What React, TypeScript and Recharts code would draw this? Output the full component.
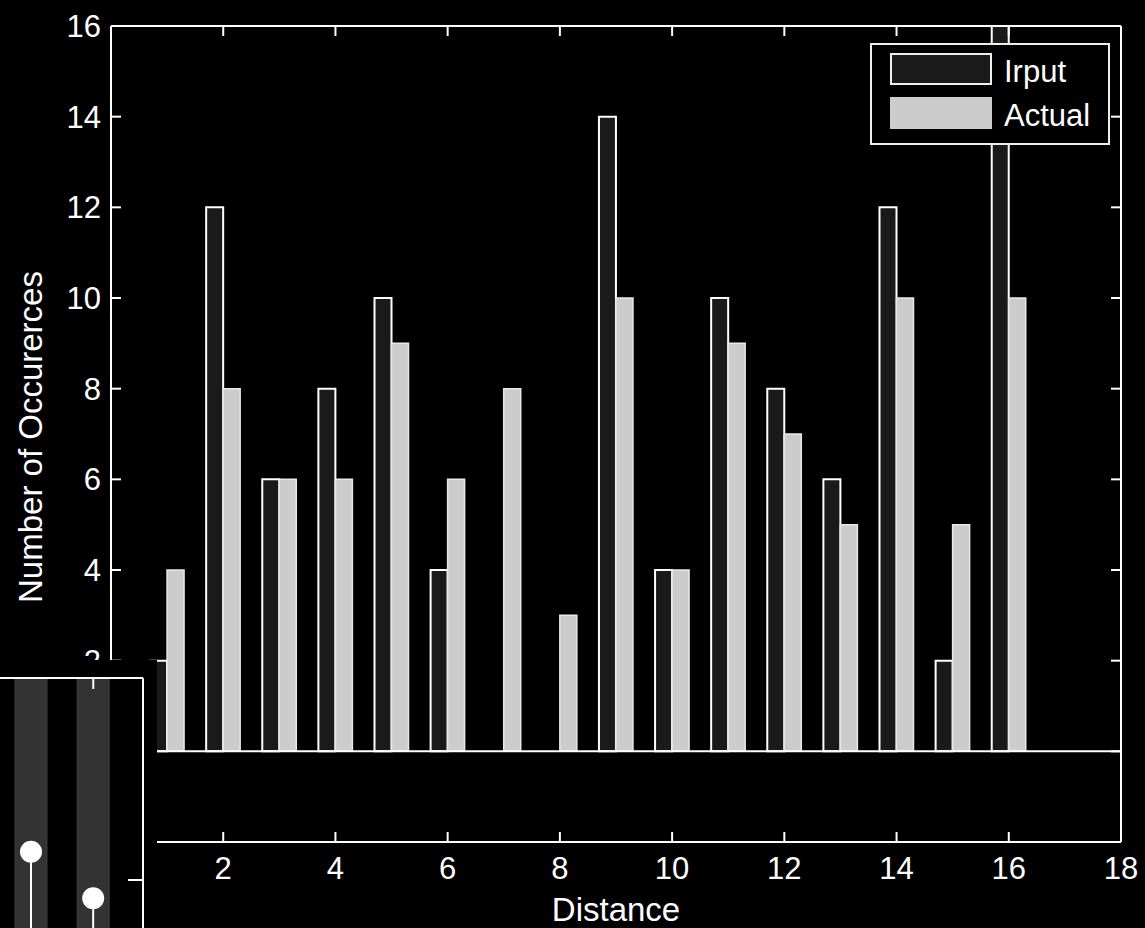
import React from 'react';
import { BarChart, ComposedChart, Bar, XAxis, YAxis, ReferenceLine } from 'recharts';

const FONT = '"Liberation Sans", Arial, sans-serif';

// Main chart data
const distances = [1, 2, 3, 4, 5, 6, 7, 8, 9, 10, 11, 12, 13, 14, 15, 16];
const inputCounts = [2, 12, 6, 8, 10, 4, 0, 0, 14, 4, 10, 8, 6, 12, 2, 16];
const actualCounts = [4, 8, 6, 6, 9, 6, 8, 3, 10, 4, 9, 7, 5, 10, 5, 10];
const xTicks = [0, 2, 4, 6, 8, 10, 12, 14, 16, 18];
const yTicks = [-2, 0, 2, 4, 6, 8, 10, 12, 14, 16];
const seriesNames = ['Irput', 'Actual'];
const seriesFills = ['#1a1a1a', '#cccccc'];
const xLabel = 'Distance';
const yLabel = 'Number of Occurerces';

// Inset (partially visible overlapping axes, bottom-left)
const insetPositions = [1, 2];
const insetBands = [4, 4];
const insetStems = [2.28, 1.82];
const insetXTicks = [2];
const insetYTicks = [2];

const data = distances.map((d, i) => ({ d, input: inputCounts[i], actual: actualCounts[i] }));
const insetData = insetPositions.map((p, i) => ({ p, band: insetBands[i], stem: insetStems[i] }));

const WHITE_LINE = { stroke: '#ffffff', strokeWidth: 2 };
const TICK_TEXT = { fill: '#ffffff', fontSize: 31, fontFamily: FONT };
const NoLabel = () => <g />;

const YLabel = (props: any) => {
  const vb = props.viewBox || { x: 0, y: 0, width: 0, height: 0 };
  const cx = vb.x + 30;
  const cy = vb.y + vb.height / 2 + 3;
  return (
    <text
      transform={`translate(${cx},${cy}) rotate(-90)`}
      textAnchor="middle"
      dominantBaseline="central"
      fill="#ffffff"
      fontSize={33}
      fontFamily={FONT}
    >
      {yLabel}
    </text>
  );
};

const StemShape = (props: any) => {
  const { x, y, width, height } = props;
  if (x == null || y == null) return null;
  const cx = x + width / 2;
  return (
    <g>
      <rect x={x} y={y} width={width} height={Math.max(0, height)} fill="#ffffff" />
      <circle cx={cx} cy={y} r={11} fill="#ffffff" />
    </g>
  );
};

export default function App() {
  return (
    <div
      style={{
        position: 'absolute',
        left: 0,
        top: 0,
        width: 1145,
        height: 928,
        background: '#000000',
        overflow: 'hidden',
      }}
    >
      <BarChart
        width={1145}
        height={928}
        data={data}
        margin={{ top: 26, right: 24, bottom: 0, left: 0 }}
        barGap={0}
        barCategoryGap={0}
      >
        <XAxis
          xAxisId="x"
          dataKey="d"
          type="number"
          domain={[0, 18]}
          allowDataOverflow
          ticks={xTicks}
          interval={0}
          height={86}
          axisLine={WHITE_LINE}
          tickLine={false}
          tickSize={8}
          tickMargin={7}
          tick={TICK_TEXT}
          label={{ value: xLabel, position: 'insideBottom', offset: 7, fill: '#ffffff', fontSize: 33, fontFamily: FONT }}
        />
        <XAxis
          xAxisId="xb"
          dataKey="d"
          type="number"
          domain={[0, 18]}
          allowDataOverflow
          ticks={xTicks}
          interval={0}
          mirror
          height={1}
          axisLine={false}
          tick={NoLabel}
          tickLine={WHITE_LINE}
          tickSize={10}
        />
        <XAxis
          xAxisId="xt"
          dataKey="d"
          type="number"
          orientation="top"
          domain={[0, 18]}
          allowDataOverflow
          ticks={xTicks}
          interval={0}
          mirror
          height={1}
          axisLine={WHITE_LINE}
          tick={NoLabel}
          tickLine={WHITE_LINE}
          tickSize={10}
        />
        <YAxis
          yAxisId="y"
          type="number"
          domain={[-2, 16]}
          allowDataOverflow
          ticks={yTicks}
          interval={0}
          width={111}
          axisLine={WHITE_LINE}
          tickLine={false}
          tickSize={4}
          tickMargin={6}
          tick={TICK_TEXT}
          label={(p: any) => <YLabel {...p} />}
        />
        <YAxis
          yAxisId="yl"
          type="number"
          domain={[-2, 16]}
          allowDataOverflow
          ticks={yTicks}
          interval={0}
          mirror
          width={1}
          axisLine={false}
          tick={NoLabel}
          tickLine={WHITE_LINE}
          tickSize={10}
        />
        <YAxis
          yAxisId="yr"
          type="number"
          orientation="right"
          domain={[-2, 16]}
          allowDataOverflow
          ticks={yTicks}
          interval={0}
          mirror
          width={1}
          axisLine={WHITE_LINE}
          tick={NoLabel}
          tickLine={WHITE_LINE}
          tickSize={10}
        />
        <ReferenceLine xAxisId="x" yAxisId="y" y={0} stroke="#ffffff" strokeWidth={2} />
        <Bar
          xAxisId="x"
          yAxisId="y"
          dataKey="input"
          name={seriesNames[0]}
          fill={seriesFills[0]}
          stroke="#ffffff"
          strokeWidth={2}
          barSize={17}
          isAnimationActive={false}
        />
        <Bar
          xAxisId="x"
          yAxisId="y"
          dataKey="actual"
          name={seriesNames[1]}
          fill={seriesFills[1]}
          stroke="#e8e8e8"
          strokeWidth={1.5}
          barSize={17}
          isAnimationActive={false}
        />
      </BarChart>

      {/* Legend */}
      <div
        style={{
          position: 'absolute',
          left: 870,
          top: 43,
          width: 240,
          height: 102,
          boxSizing: 'border-box',
          border: '2px solid #eeeeee',
          background: '#000000',
          fontFamily: FONT,
          fontSize: 31,
          color: '#ffffff',
        }}
      >
        {seriesNames.map((name, i) => (
          <div key={name}>
            <div
              style={{
                position: 'absolute',
                left: 18,
                top: 8 + i * 44,
                width: 102,
                height: 32,
                boxSizing: 'border-box',
                border: i === 0 ? '2px solid #eeeeee' : 'none',
                background: seriesFills[i],
              }}
            />
            <div
              style={{
                position: 'absolute',
                left: 132,
                top: 9 + i * 44,
                height: 36,
                lineHeight: '36px',
                whiteSpace: 'nowrap',
              }}
            >
              {name}
            </div>
          </div>
        ))}
      </div>

      {/* Overlapping inset axes (bottom-left) */}
      <div
        style={{
          position: 'absolute',
          left: 0,
          top: 660,
          width: 157,
          height: 268,
          background: '#000000',
          overflow: 'hidden',
        }}
      >
        <ComposedChart
          width={157}
          height={422}
          data={insetData}
          margin={{ top: 18, right: 14, bottom: 0, left: 0 }}
          barGap={0}
        >
          <XAxis
            xAxisId="b"
            dataKey="p"
            type="number"
            orientation="top"
            domain={[0.5, 2.8]}
            allowDataOverflow
            ticks={insetXTicks}
            interval={0}
            mirror
            height={1}
            axisLine={WHITE_LINE}
            tick={NoLabel}
            tickLine={WHITE_LINE}
            tickSize={11}
          />
          <XAxis xAxisId="s" dataKey="p" type="number" domain={[0.5, 2.8]} allowDataOverflow hide />
          <YAxis
            yAxisId="v"
            type="number"
            orientation="right"
            domain={[0, 4]}
            allowDataOverflow
            ticks={insetYTicks}
            interval={0}
            mirror
            width={1}
            axisLine={WHITE_LINE}
            tick={NoLabel}
            tickLine={WHITE_LINE}
            tickSize={15}
          />
          <Bar
            xAxisId="b"
            yAxisId="v"
            dataKey="band"
            fill="#333333"
            stroke="#3d3d3d"
            strokeWidth={1}
            barSize={32}
            isAnimationActive={false}
          />
          <Bar
            xAxisId="s"
            yAxisId="v"
            dataKey="stem"
            barSize={2}
            shape={(p: any) => <StemShape {...p} />}
            isAnimationActive={false}
          />
        </ComposedChart>
      </div>
    </div>
  );
}
